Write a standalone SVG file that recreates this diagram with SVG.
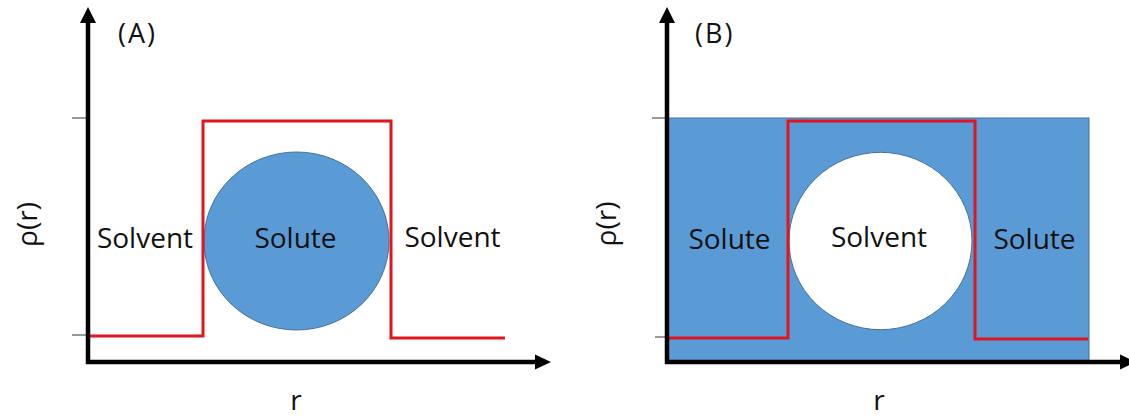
<svg xmlns="http://www.w3.org/2000/svg" width="1129" height="416" viewBox="0 0 1129 416">
<style>
.lbl{font-family:"Open Sans","Liberation Sans",sans-serif;font-size:28px;fill:#111;text-anchor:middle}
.tag{font-family:"Open Sans","Liberation Sans",sans-serif;font-size:27px;fill:#111}
.axis{stroke:#000;stroke-width:4.5;fill:none}
.tick{stroke:#555;stroke-width:1.2}
.red{stroke:#E0161E;stroke-width:3;fill:none}
.blue{fill:#5B9BD5;stroke:#41719C;stroke-width:1}
</style>
<rect width="1129" height="416" fill="#fff"/>
<g id="panelA">
  <g id="A-circle"><ellipse class="blue" cx="296.5" cy="241" rx="92.5" ry="89"/></g>
  <g id="A-profile"><path class="red" d="M88,336 H203 V121 H391 V338 H505"/></g>
  <g id="A-axes">
    <line class="tick" x1="72" y1="118" x2="88" y2="118"/>
    <line class="tick" x1="72" y1="335" x2="88" y2="335"/>
    <path class="axis" d="M88,20 V362 H537"/>
    <polygon points="88,7 80,23 96,23" fill="#000"/>
    <polygon points="551,362 535,354.5 535,369.5" fill="#000"/>
  </g>
  <text class="tag" x="118" y="43" letter-spacing="2">(A)</text>
  <text class="lbl" transform="translate(37,224.5) rotate(-90)">ρ(r)</text>
  <text class="lbl" x="296" y="410">r</text>
  <text class="lbl" x="145" y="248">Solvent</text>
  <text class="lbl" x="295.5" y="248">Solute</text>
  <text class="lbl" x="452.5" y="247">Solvent</text>
</g>
<g id="panelB">
  <g id="B-region"><rect class="blue" x="667" y="118" width="422" height="244"/></g>
  <g id="B-circle"><ellipse cx="880.5" cy="241" rx="91.5" ry="88.7" fill="#fff" stroke="#41719C" stroke-width="1"/></g>
  <g id="B-profile"><path class="red" d="M667,338 H788 V121 H975 V339 H1088"/></g>
  <g id="B-axes">
    <line class="tick" x1="652" y1="118" x2="667" y2="118"/>
    <line class="tick" x1="655" y1="337" x2="667" y2="337"/>
    <path class="axis" d="M667,20 V362 H1122"/>
    <polygon points="667,7 659,23 675,23" fill="#000"/>
    <polygon points="1136,362 1120,354.5 1120,369.5" fill="#000"/>
  </g>
  <text class="tag" x="695" y="43" letter-spacing="2">(B)</text>
  <text class="lbl" transform="translate(616,224) rotate(-90)">ρ(r)</text>
  <text class="lbl" x="879" y="410">r</text>
  <text class="lbl" x="729.5" y="249">Solute</text>
  <text class="lbl" x="879" y="247">Solvent</text>
  <text class="lbl" x="1034.5" y="249">Solute</text>
</g>
</svg>
